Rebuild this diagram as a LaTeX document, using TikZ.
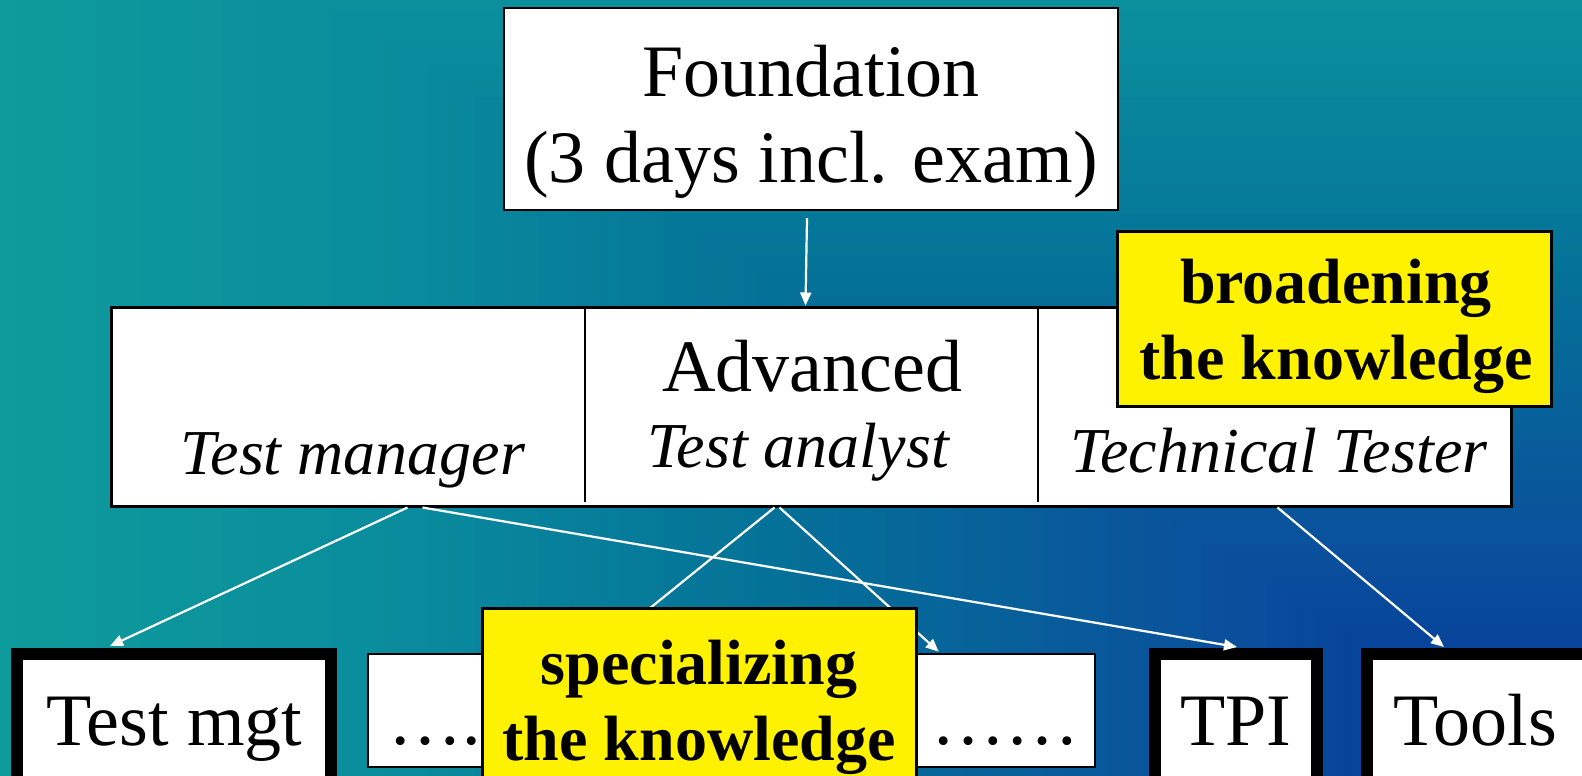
\documentclass[tikz,border=0pt]{standalone}
\usepackage{fontspec}
\setmainfont{Liberation Serif}
\usetikzlibrary{arrows.meta,calc}
\begin{document}
\begin{tikzpicture}[x=1pt,y=-1pt,
  box/.style={draw=black, fill=white, line width=2.5pt, inner sep=0pt},
  thickbox/.style={draw=black, fill=white, line width=12pt, inner sep=0pt},
  note/.style={draw=black, fill=yellow, line width=3pt, inner sep=0pt},
  arr/.style={draw=white, line width=2.2pt, -{Triangle[length=13pt,width=11pt]}},
  big/.style={font=\fontsize{74}{86}\selectfont, inner sep=0pt, anchor=base},
  role/.style={font=\fontsize{64}{76}\selectfont\itshape, inner sep=0pt, anchor=base},
  boldtxt/.style={font=\fontsize{64}{76}\selectfont\bfseries, inner sep=0pt, anchor=base},
]
\useasboundingbox (0,0) rectangle (1582,776);
\clip (0,0) rectangle (1582,776);
% background: rectangular gradient from the bottom-right corner
\foreach \i in {100,99,...,1}{
  \pgfmathsetmacro\s{\i/100}
  \pgfmathsetmacro\bgR{ifthenelse(\s<0.22, 2+8*\s/0.22, ifthenelse(\s<0.53, 10-6*(\s-0.22)/0.31, ifthenelse(\s<0.76, 4+6*(\s-0.53)/0.23, 10+4*(\s-0.76)/0.24)))/255}
  \pgfmathsetmacro\bgG{ifthenelse(\s<0.22, 50+28*\s/0.22, ifthenelse(\s<0.53, 78+37*(\s-0.22)/0.31, ifthenelse(\s<0.76, 115+25*(\s-0.53)/0.23, 140+15*(\s-0.76)/0.24)))/255}
  \pgfmathsetmacro\bgB{ifthenelse(\s<0.22, 152+4*\s/0.22, ifthenelse(\s<0.53, 156-4*(\s-0.22)/0.31, ifthenelse(\s<0.76, 152+5*(\s-0.53)/0.23, 157-2*(\s-0.76)/0.24)))/255}
  \definecolor{bgc}{rgb}{\bgR,\bgG,\bgB}
  \fill[bgc] ({1582*(1-\s)},{776*(1-1.25*\s)}) rectangle (1582,776);
}

% Foundation
\node[box, minimum width=614pt, minimum height=202pt] (found) at (811,109) {};
\node[big] (fl1) at (811,96) {Foundation};
\node[big] (fl2) at (811,182) {(3 days incl. exam)};

% Advanced
\node[box, line width=3pt, minimum width=1400pt, minimum height=199pt] (adv) at (811,406.5) {};
\draw[line width=2pt] ($(adv.north west)+(475,0)$) -- ($(adv.south west)+(475,-6)$);
\draw[line width=2pt] ($(adv.north west)+(928,0)$) -- ($(adv.south west)+(928,-6)$);
\node[big] (advt) at (812,391) {Advanced};
\node[role] (tman) at (353,474) {Test manager};
\node[role] (tana) at (798,467) {Test analyst};
\node[role] (ttec) at (1279,472) {Technical Tester};

\draw[arr] ($(found.south)+(-4,7)$) -- ($(adv.north west)+(696,0)$);

% broadening note
\node[note, minimum width=434pt, minimum height=175pt] (broad) at (1334,318.5) {};
\node[boldtxt] (br1) at (1336,303) {broadening};
\node[boldtxt] (br2) at (1336,379) {the knowledge};

% bottom boxes
\node[thickbox, minimum width=314pt, minimum height=136pt] (tmgt) at (174,722) {};
\node[big] (tmgtt) at (174.5,745) {Test mgt};
\node[box, minimum width=727pt, minimum height=113pt] (dots) at (731.5,710.5) {};
\node[big, anchor=base west] (dotsl) at (388,744) {….};
\node[big] (dotsr) at (1005,744) {……};
\node[thickbox, minimum width=162.5pt, minimum height=136pt] (tpi) at (1235.75,722) {};
\node[big] (tpit) at (1236,745) {TPI};
\node[thickbox, minimum width=223pt, minimum height=136pt] (tools) at (1478.5,722) {};
\node[big] (toolst) at (1475,745) {Tools};

% connectors from Advanced
\draw[arr] ($(adv.south west)+(298,0)$) -- ($(tmgt.north west)+(99,-2)$);
\draw[arr] ($(adv.south west)+(313,0)$) -- ($(tpi.north west)+(88.5,-1)$);
\draw[arr] ($(adv.south west)+(665,0)$) -- ($(dots.north west)+(228,0)$);
\draw[arr] ($(adv.south west)+(670,0)$) -- ($(dots.north west)+(572,-1)$);
\draw[arr] ($(adv.south west)+(1168,0)$) -- ($(tools.north west)+(83,-1)$);

% specializing note
\node[note, minimum width=434pt, minimum height=192pt] (spec) at (699,704) {};
\node[boldtxt] (sp1) at (699,684) {specializing};
\node[boldtxt] (sp2) at (699,760) {the knowledge};
\end{tikzpicture}
\end{document}
